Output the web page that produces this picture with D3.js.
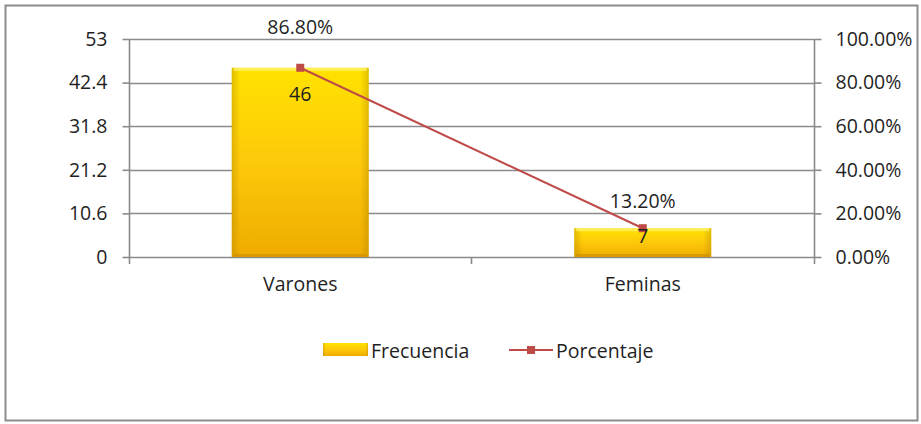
<!DOCTYPE html>
<html><head><meta charset="utf-8">
<script src="https://cdn.jsdelivr.net/npm/d3@7"></script>
<style>
html,body{margin:0;padding:0;background:#fff;}
svg text{font-family:"Open Sans",sans-serif;fill:#1f1f1f;}
</style></head>
<body><svg id="c" width="921" height="424"></svg>
<script>
const categories = ["Varones", "Feminas"];
const frecuencia = [46, 7];
const porcentaje = [86.8, 13.2];
const leftTicks = [0, 10.6, 21.2, 31.8, 42.4, 53];
const rightTicks = [0, 20, 40, 60, 80, 100];
const seriesNames = ["Frecuencia", "Porcentaje"];

const svg = d3.select("#c");
const L = 129, R = 814, T = 39, B = 257;
const fs = 19.5;

// outer border
svg.append("rect").attr("x",5.5).attr("y",5.5).attr("width",912).attr("height",415)
  .attr("fill","#fff").attr("stroke","#8c8c8c").attr("stroke-width",2);

const defs = svg.append("defs");
const g1 = defs.append("linearGradient").attr("id","barV").attr("x1",0).attr("y1",0).attr("x2",0).attr("y2",1);
g1.append("stop").attr("offset","0").attr("stop-color","#ffe200");
g1.append("stop").attr("offset","0.5").attr("stop-color","#fdc90a");
g1.append("stop").attr("offset","1").attr("stop-color","#eeac00");
const g2 = defs.append("linearGradient").attr("id","barH").attr("x1",0).attr("y1",0).attr("x2",1).attr("y2",0);
g2.append("stop").attr("offset","0").attr("stop-color","#a87a00").attr("stop-opacity",0.35);
g2.append("stop").attr("offset","0.06").attr("stop-color","#a87a00").attr("stop-opacity",0);
g2.append("stop").attr("offset","0.94").attr("stop-color","#a87a00").attr("stop-opacity",0);
g2.append("stop").attr("offset","1").attr("stop-color","#a87a00").attr("stop-opacity",0.35);

const x = d3.scaleBand().domain(categories).range([L, R]).padding(0);
const yL = d3.scaleLinear().domain([0, 53]).range([B, T]);
const yR = d3.scaleLinear().domain([0, 100]).range([B, T]);

// gridlines
svg.append("g").selectAll("line").data(leftTicks).join("line")
  .attr("x1", L).attr("x2", R).attr("y1", d => Math.round(yL(d))+0.5).attr("y2", d => Math.round(yL(d))+0.5)
  .attr("stroke", "#8a8a8a").attr("stroke-width", 1.6);

// left axis
const axL = svg.append("g").attr("transform", `translate(${L+0.5},0)`)
  .call(d3.axisLeft(yL).tickValues(leftTicks).tickSize(7).tickPadding(15).tickFormat(d => d3.format("")(+d.toFixed(1))));
axL.select(".domain").attr("d", `M0,${T}V${B+7}`).attr("stroke","#8a8a8a").attr("stroke-width",1.6);
axL.selectAll(".tick line").attr("stroke","#8a8a8a").attr("stroke-width",1.6);
axL.selectAll("text").style("font-size", fs+"px").attr("font-family",null).attr("fill","#1f1f1f");

// right axis
const axR = svg.append("g").attr("transform", `translate(${R+0.5},0)`)
  .call(d3.axisRight(yR).tickValues(rightTicks).tickSize(7).tickPadding(14).tickFormat(d => d.toFixed(2) + "%"));
axR.select(".domain").attr("d", `M0,${T}V${B+7}`).attr("stroke","#8a8a8a").attr("stroke-width",1.6);
axR.selectAll(".tick line").attr("stroke","#8a8a8a").attr("stroke-width",1.6);
axR.selectAll("text").style("font-size", fs+"px").attr("font-family",null).attr("fill","#1f1f1f");

// bottom axis
const axB = svg.append("g").attr("transform", `translate(0,${B+0.5})`)
  .call(d3.axisBottom(x).tickSize(0).tickPadding(20));
axB.select(".domain").remove();
axB.selectAll("text").style("font-size", fs+"px").attr("font-family",null).attr("fill","#1f1f1f");
svg.append("g").selectAll("line").data([x.bandwidth()]).join("line")
  .attr("x1", L + x.bandwidth()).attr("x2", L + x.bandwidth())
  .attr("y1", B).attr("y2", B+7).attr("stroke","#8a8a8a").attr("stroke-width",1.6);

// bars
const bw = x.bandwidth() * 0.4;
const bars = svg.append("g");
categories.forEach((c, i) => {
  const bx = x(c) + (x.bandwidth() - bw) / 2;
  const by = yL(frecuencia[i]);
  const h = yL(0) - by;
  bars.append("rect").attr("x", bx).attr("y", by).attr("width", bw).attr("height", h).attr("fill", "url(#barV)");
  bars.append("rect").attr("x", bx).attr("y", by).attr("width", bw).attr("height", h).attr("fill", "url(#barH)");
  bars.append("rect").attr("x", bx+2).attr("y", by).attr("width", bw-4).attr("height", 3).attr("fill", "#fff36a").attr("opacity",0.8);
  bars.append("rect").attr("x", bx+2).attr("y", by+h-3).attr("width", bw-4).attr("height", 3).attr("fill", "#c98e00").attr("opacity",0.6);
});

// line
const cx = c => x(c) + x.bandwidth() / 2;
const pts = categories.map((c, i) => [cx(c), yR(porcentaje[i])]);
svg.append("path").attr("d", d3.line()(pts)).attr("fill","none").attr("stroke","#be4b48").attr("stroke-width",2);
svg.append("g").selectAll("rect").data(pts).join("rect")
  .attr("x", d => d[0]-4).attr("y", d => d[1]-4).attr("width", 8).attr("height", 8).attr("fill", "#be4b48");

// bar labels
const barLabelOffset = [26, 7];
svg.append("g").selectAll("text").data(categories).join("text")
  .attr("x", c => cx(c)).attr("y", (c, i) => yL(frecuencia[i]) + barLabelOffset[i])
  .attr("text-anchor","middle").attr("dominant-baseline","central").style("font-size", fs+"px")
  .text((c, i) => frecuencia[i]);

// line labels
const lineLabelOffset = [41, 28];
svg.append("g").selectAll("text").data(categories).join("text")
  .attr("x", c => cx(c)).attr("y", (c, i) => yR(porcentaje[i]) - lineLabelOffset[i])
  .attr("text-anchor","middle").attr("dominant-baseline","central").style("font-size", fs+"px")
  .text((c, i) => porcentaje[i].toFixed(2) + "%");

// legend
const lg = svg.append("g");
lg.append("rect").attr("x", 323).attr("y", 343).attr("width", 45).attr("height", 13).attr("fill","url(#barV)");
lg.append("rect").attr("x", 323).attr("y", 343).attr("width", 45).attr("height", 13).attr("fill","url(#barH)");
lg.append("text").attr("x", 371).attr("y", 350).attr("dominant-baseline","central").style("font-size", fs+"px").text(seriesNames[0]);
lg.append("line").attr("x1", 509).attr("x2", 553).attr("y1", 350).attr("y2", 350).attr("stroke","#be4b48").attr("stroke-width",2);
lg.append("rect").attr("x", 527).attr("y", 346).attr("width", 8).attr("height", 8).attr("fill","#be4b48");
lg.append("text").attr("x", 556).attr("y", 350).attr("dominant-baseline","central").style("font-size", fs+"px").text(seriesNames[1]);
</script></body></html>
